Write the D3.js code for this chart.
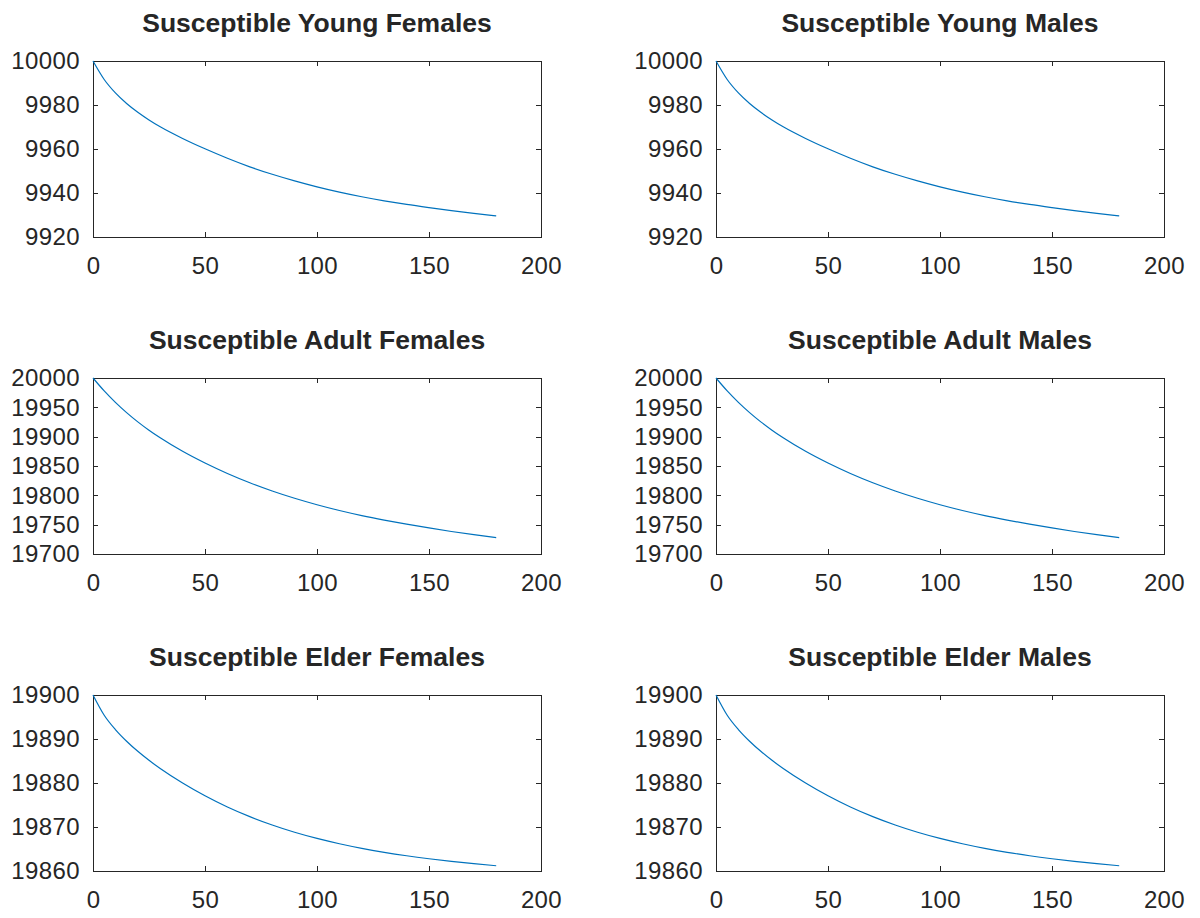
<!DOCTYPE html>
<html>
<head>
<meta charset="utf-8">
<script src="https://cdn.jsdelivr.net/npm/d3@7"></script>
<style>
  body { margin: 0; background: #fff; }
  text { font-family: "Liberation Sans", Arial, Helvetica, sans-serif; fill: #262626; }
</style>
</head>
<body>
<div id="chart"></div>
<script>
// time in days
const days = [0, 5, 10, 15, 20, 25, 30, 40, 50, 60, 70, 80, 90, 100, 110, 120, 130, 140, 150, 160, 170, 180];

const youngFemales = [10000, 9991.6, 9985.5, 9980.7, 9976.7, 9973.2, 9970.1, 9964.8, 9960.1, 9955.8, 9951.9, 9948.5, 9945.5, 9942.8, 9940.4, 9938.3, 9936.45, 9934.8, 9933.35, 9932, 9930.75, 9929.6];
const youngMales   = [10000, 9991.6, 9985.5, 9980.7, 9976.7, 9973.2, 9970.1, 9964.8, 9960.1, 9955.8, 9951.9, 9948.5, 9945.5, 9942.8, 9940.4, 9938.3, 9936.45, 9934.8, 9933.35, 9932, 9930.75, 9929.6];
const adultFemales = [20000, 19978, 19958.5, 19941, 19925.25, 19911, 19898, 19875, 19855, 19837.2, 19821.4, 19807.4, 19795, 19784, 19774.2, 19765.5, 19757.8, 19750.8, 19744.4, 19738.4, 19732.9, 19727.9];
const adultMales   = [20000, 19978, 19958.5, 19941, 19925.25, 19911, 19898, 19875, 19855, 19837.2, 19821.4, 19807.4, 19795, 19784, 19774.2, 19765.5, 19757.8, 19750.8, 19744.4, 19738.4, 19732.9, 19727.9];
const elderFemales = [19900, 19895.4, 19892.15, 19889.5, 19887.2, 19885.15, 19883.3, 19880, 19877.1, 19874.55, 19872.35, 19870.45, 19868.8, 19867.4, 19866.2, 19865.15, 19864.25, 19863.47, 19862.79, 19862.19, 19861.66, 19861.19];
const elderMales   = [19900, 19895.4, 19892.15, 19889.5, 19887.2, 19885.15, 19883.3, 19880, 19877.1, 19874.55, 19872.35, 19870.45, 19868.8, 19867.4, 19866.2, 19865.15, 19864.25, 19863.47, 19862.79, 19862.19, 19861.66, 19861.19];

const titles = [
  "Susceptible Young Females", "Susceptible Young Males",
  "Susceptible Adult Females", "Susceptible Adult Males",
  "Susceptible Elder Females", "Susceptible Elder Males"
];
const series = [youngFemales, youngMales, adultFemales, adultMales, elderFemales, elderMales];

const xTicks = [0, 50, 100, 150, 200];
const youngTicks = [9920, 9940, 9960, 9980, 10000];
const adultTicks = [19700, 19750, 19800, 19850, 19900, 19950, 20000];
const elderTicks = [19860, 19870, 19880, 19890, 19900];
const yTickSets = [youngTicks, youngTicks, adultTicks, adultTicks, elderTicks, elderTicks];

const width = 1200, height = 918;
const colLeft = [93, 716], rowTop = [61, 378, 695];
const axW = 448, axH = 176;
const axisColor = "#262626";

const svg = d3.select("#chart").append("svg")
  .attr("width", width)
  .attr("height", height);

series.forEach(function (vals, i) {
  const col = i % 2, row = Math.floor(i / 2);
  const yt = yTickSets[i];
  const g = svg.append("g")
    .attr("transform", "translate(" + colLeft[col] + "," + rowTop[row] + ")");

  const x = d3.scaleLinear().domain([0, 200]).range([0, axW]);
  const y = d3.scaleLinear().domain([yt[0], yt[yt.length - 1]]).range([axH, 0]);

  // box
  g.append("rect")
    .attr("x", 0).attr("y", 0)
    .attr("width", axW).attr("height", axH)
    .attr("fill", "none")
    .attr("stroke", axisColor)
    .attr("stroke-width", 1)
    .attr("shape-rendering", "crispEdges");

  // bottom axis (ticks pointing in)
  const bottom = g.append("g")
    .attr("transform", "translate(0," + axH + ")")
    .call(d3.axisBottom(x).tickValues(xTicks).tickSizeInner(-5).tickSizeOuter(0).tickPadding(20));
  bottom.selectAll("text").attr("dy", "0.71em");

  // top axis ticks, no labels
  g.append("g")
    .call(d3.axisTop(x).tickValues(xTicks).tickSizeInner(-5).tickSizeOuter(0).tickFormat(""));

  // left axis
  g.append("g")
    .call(d3.axisLeft(y).tickValues(yt).tickSizeInner(-5).tickSizeOuter(0).tickPadding(13).tickFormat(d3.format("d")));

  // right axis ticks
  g.append("g")
    .attr("transform", "translate(" + axW + ",0)")
    .call(d3.axisRight(y).tickValues(yt).tickSizeInner(-5).tickSizeOuter(0).tickFormat(""));

  g.selectAll(".domain").remove();
  g.selectAll(".tick line").attr("stroke", axisColor).attr("shape-rendering", "crispEdges");
  g.selectAll(".tick text")
    .style("font-family", "'Liberation Sans', Arial, sans-serif")
    .style("font-size", "24px")
    .style("letter-spacing", "0.4px")
    .attr("fill", axisColor);

  // curve
  const line = d3.line()
    .x(function (d, j) { return x(days[j]); })
    .y(function (d) { return y(d); })
    .curve(d3.curveMonotoneX);

  g.append("path")
    .datum(vals)
    .attr("d", line)
    .attr("fill", "none")
    .attr("stroke", "#0072BD")
    .attr("stroke-width", 1.2);

  // title
  g.append("text")
    .attr("x", axW / 2)
    .attr("y", -29)
    .attr("text-anchor", "middle")
    .style("font-size", "26.5px")
    .style("font-weight", "bold")
    .attr("fill", "#000")
    .text(titles[i]);
});
</script>
</body>
</html>
